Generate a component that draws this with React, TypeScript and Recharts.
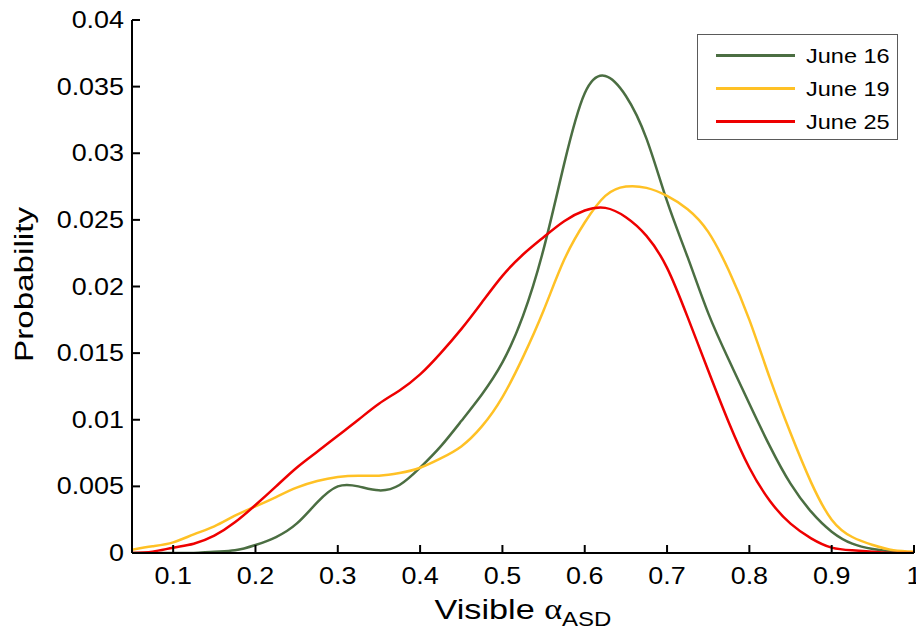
import React from 'react';
import { LineChart, Line, XAxis, YAxis, Legend } from 'recharts';

// evenly spaced sample positions of the density estimate (step 0.025)
const alphaValues = [
  0.05, 0.075, 0.1, 0.125, 0.15, 0.175, 0.2, 0.225, 0.25, 0.275, 0.3, 0.325, 0.35, 0.375, 0.4, 0.425, 0.45,
  0.475, 0.5, 0.525, 0.55, 0.575, 0.6, 0.625, 0.65, 0.675, 0.7, 0.725, 0.75, 0.775, 0.8, 0.825, 0.85, 0.875,
  0.9, 0.925, 0.95, 0.975, 1,
];
const june16 = [
  0, 0, 0, 0, 0.0001, 0.0002, 0.0006, 0.0012, 0.0022, 0.0038, 0.005, 0.005, 0.0047, 0.0051, 0.0064, 0.008,
  0.0099, 0.0119, 0.0143, 0.0178, 0.0228, 0.0292, 0.0345, 0.0358, 0.0343, 0.0311, 0.0264, 0.0222, 0.018,
  0.0145, 0.0112, 0.008, 0.0052, 0.0031, 0.0016, 0.0007, 0.0003, 0.0001, 0,
];
const june19 = [
  0.00025, 0.0005, 0.0008, 0.0014, 0.002, 0.0028, 0.0035, 0.0042, 0.0049, 0.0054, 0.0057, 0.0058, 0.0058,
  0.006, 0.0064, 0.0071, 0.008, 0.0095, 0.0117, 0.0147, 0.0182, 0.022, 0.0248, 0.0268, 0.0275, 0.0274,
  0.0268, 0.0258, 0.0241, 0.0212, 0.0175, 0.0131, 0.009, 0.0053, 0.0025, 0.0012, 0.0006, 0.0002, 0.0001,
];
const june25 = [
  0, 0.0001, 0.0004, 0.0007, 0.0013, 0.0023, 0.0036, 0.005, 0.0064, 0.0076, 0.0088, 0.01, 0.0112, 0.0122,
  0.0134, 0.015, 0.0168, 0.0188, 0.0208, 0.0224, 0.0237, 0.0249, 0.0257, 0.0259, 0.0252, 0.0238, 0.0214,
  0.0177, 0.0137, 0.0098, 0.0064, 0.0039, 0.0022, 0.0011, 0.0004, 0.0002, 0.0001, 0, 0,
];

const xTicks = [0.1, 0.2, 0.3, 0.4, 0.5, 0.6, 0.7, 0.8, 0.9, 1];
const yTicks = [0, 0.005, 0.01, 0.015, 0.02, 0.025, 0.03, 0.035, 0.04];

const seriesNames = ['June 16', 'June 19', 'June 25'];
const seriesColors = ['#4b6e42', '#ffc125', '#ee0000'];

const chartData = alphaValues.map((a, i) => ({
  alpha: a,
  june16: june16[i],
  june19: june19[i],
  june25: june25[i],
}));

const FONT = '"Liberation Sans", Arial, Helvetica, sans-serif';
const STRETCH = 1.17;

const XTick = (props: any) => {
  const { x, y, payload } = props;
  return (
    <g transform={`translate(${x},${y}) scale(${STRETCH},1)`}>
      <text x={0} y={0} textAnchor="middle" fontSize={23} fontFamily={FONT} fill="#000">
        {String(payload.value)}
      </text>
    </g>
  );
};

const YTick = (props: any) => {
  const { x, y, payload } = props;
  return (
    <g transform={`translate(${x},${y}) scale(${STRETCH},1)`}>
      <text x={0} y={0} dy={8} textAnchor="end" fontSize={23} fontFamily={FONT} fill="#000">
        {String(payload.value)}
      </text>
    </g>
  );
};

const XLabel = (props: any) => {
  const { viewBox } = props;
  const cx = viewBox.x + viewBox.width / 2;
  return (
    <g transform={`translate(${cx},${viewBox.y + 66}) scale(1.2,1)`}>
      <text x={0} y={0} textAnchor="middle" fontSize={28.5} fontFamily={FONT} fill="#000">
        <tspan>Visible </tspan>
        <tspan fontFamily='"Liberation Serif", "DejaVu Serif", serif'>α</tspan>
        <tspan dy={7} fontSize={20}>ASD</tspan>
      </text>
    </g>
  );
};

const YLabel = (props: any) => {
  const { viewBox } = props;
  const cy = viewBox.y + viewBox.height / 2 - 2;
  return (
    <text
      x={33}
      y={cy}
      transform={`rotate(-90, 33, ${cy})`}
      textAnchor="middle"
      fontSize={25}
      fontFamily={FONT}
      fill="#000"
      textLength={155}
      lengthAdjust="spacingAndGlyphs"
    >
      Probability
    </text>
  );
};

const LegendBox = (props: any) => {
  const { payload } = props;
  return (
    <div
      style={{
        width: 201,
        height: 106,
        boxSizing: 'border-box',
        border: '1.5px solid #5a5a5a',
        background: '#fff',
        paddingTop: 4,
        fontFamily: FONT,
      }}
    >
      {(payload || []).map((entry: any) => (
        <div key={entry.value} style={{ height: 33, display: 'flex', alignItems: 'center' }}>
          <div style={{ marginLeft: 18, width: 79, height: 3, background: entry.color }} />
          <span
            style={{
              marginLeft: 11,
              fontSize: 21,
              color: '#000',
              display: 'inline-block',
              transform: 'scaleX(1.12)',
              transformOrigin: 'left center',
            }}
          >
            {entry.value}
          </span>
        </div>
      ))}
    </div>
  );
};

export default function App() {
  return (
    <div style={{ position: 'absolute', left: 0, top: 0, width: 916, height: 640, background: '#fff' }}>
      <LineChart width={916} height={640} data={chartData} margin={{ top: 20, right: 2, left: 0, bottom: 0 }}>
        <XAxis
          dataKey="alpha"
          type="number"
          domain={[0.05, 1]}
          ticks={xTicks}
          interval={0}
          height={87}
          tickSize={-8}
          tickMargin={39}
          tick={<XTick />}
          axisLine={{ stroke: '#000', strokeWidth: 2 }}
          tickLine={{ stroke: '#000', strokeWidth: 2 }}
          allowDataOverflow
          label={<XLabel />}
        />
        <XAxis
          xAxisId="top"
          orientation="top"
          dataKey="alpha"
          type="number"
          domain={[0.05, 1]}
          ticks={xTicks}
          interval={0}
          height={0}
          tickSize={-8}
          tick={false}
          axisLine={{ stroke: '#000', strokeWidth: 2 }}
          tickLine={{ stroke: '#000', strokeWidth: 2 }}
          allowDataOverflow
        />
        <YAxis
          type="number"
          domain={[0, 0.04]}
          ticks={yTicks}
          interval={0}
          width={132}
          tickSize={-8}
          tickMargin={16}
          tick={<YTick />}
          axisLine={{ stroke: '#000', strokeWidth: 2 }}
          tickLine={{ stroke: '#000', strokeWidth: 2 }}
          allowDataOverflow
          label={<YLabel />}
        />
        <YAxis
          yAxisId="right"
          orientation="right"
          type="number"
          domain={[0, 0.04]}
          ticks={yTicks}
          interval={0}
          width={0}
          tickSize={-8}
          tick={false}
          axisLine={{ stroke: '#000', strokeWidth: 2 }}
          tickLine={{ stroke: '#000', strokeWidth: 2 }}
          allowDataOverflow
        />
        <Legend
          layout="horizontal"
          verticalAlign="middle"
          align="center"
          wrapperStyle={{ top: 34, left: 697, width: 201 }}
          content={<LegendBox />}
        />
        <Line
          type="natural"
          dataKey="june16"
          name={seriesNames[0]}
          stroke={seriesColors[0]}
          strokeWidth={2.5}
          dot={false}
          isAnimationActive={false}
        />
        <Line
          type="natural"
          dataKey="june19"
          name={seriesNames[1]}
          stroke={seriesColors[1]}
          strokeWidth={2.5}
          dot={false}
          isAnimationActive={false}
        />
        <Line
          type="natural"
          dataKey="june25"
          name={seriesNames[2]}
          stroke={seriesColors[2]}
          strokeWidth={2.5}
          dot={false}
          isAnimationActive={false}
        />
      </LineChart>
    </div>
  );
}
